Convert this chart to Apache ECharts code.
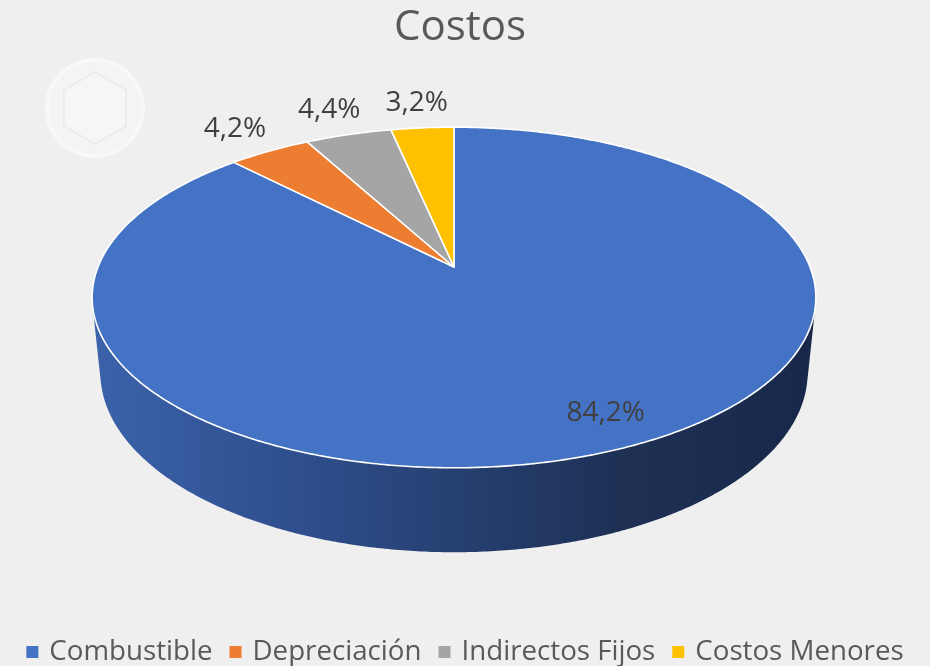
<!DOCTYPE html>
<html>
<head>
<meta charset="utf-8">
<script src="https://cdn.jsdelivr.net/npm/echarts@6/dist/echarts.min.js"></script>
<style>
  html, body { margin: 0; padding: 0; background: #efefef; }
  #chart { width: 930px; height: 666px; }
</style>
</head>
<body>
<div id="chart"></div>
<script>
const categories = ['Combustible', 'Depreciación', 'Indirectos Fijos', 'Costos Menores'];
const values = [84.2, 4.2, 4.4, 3.2];
const colors = ['#4472C4', '#ED7D31', '#A5A5A5', '#FFC000'];

const FONT = '"Open Sans", "Noto Sans", sans-serif';

// 3d look: a flat cylinder seen from above with a bit of perspective
const CX = 454, CY = 267, K = 356;
const SIN_A = 0.463, COS_A = Math.sqrt(1 - SIN_A * SIN_A);
const DIST = 4.95, DEPTH = 0.24;

const total = values.reduce((a, b) => a + b, 0);
const starts = [];
values.reduce((acc, v) => { starts.push(acc); return acc + v; }, 0);

const proj = (X, Y, Z) => {
  const yc = Y * COS_A - Z * SIN_A;
  const zc = Y * SIN_A + Z * COS_A;
  const s = DIST / (DIST - zc);
  return [CX + K * X * s, CY - K * yc * s];
};
// angle in degrees, clockwise from 12 o'clock
const rim = (deg, r, Y) => {
  const t = deg * Math.PI / 180;
  return proj(r * Math.sin(t), Y, -r * Math.cos(t));
};
const arc = (a0, a1, r, Y) => {
  const pts = [];
  const n = Math.max(2, Math.ceil(Math.abs(a1 - a0) / 0.5));
  for (let k = 0; k <= n; k++) pts.push(rim(a0 + (a1 - a0) * k / n, r, Y));
  return pts;
};
const silhouette = Math.acos(-1 / (DIST * COS_A)) * 180 / Math.PI;

const fmt = v => v.toFixed(1).replace('.', ',') + '%';

function makeRender(i) {
  return function (params, api) {
    const v = api.value(0);
    const a0 = starts[i] / total * 360;
    const a1 = a0 + v / total * 360;
    const color = api.visual('color');
    const children = [];

    const lo = Math.max(a0, silhouette), hi = Math.min(a1, 360 - silhouette);
    if (lo < hi) {
      const wall = arc(lo, hi, 1, 0).concat(arc(hi, lo, 1, -DEPTH));
      children.push({
        type: 'polygon',
        z2: 0,
        shape: { points: wall },
        style: {
          fill: {
            type: 'linear', x: 0, y: 0, x2: 1, y2: 0,
            colorStops: [
              { offset: 0, color: '#3b62aa' },
              { offset: 0.29, color: '#2e4e8c' },
              { offset: 0.51, color: '#253f70' },
              { offset: 0.73, color: '#1e3155' },
              { offset: 1, color: '#18274a' }
            ]
          }
        }
      });
    }

    children.push({
      type: 'polygon',
      z2: 1,
      shape: { points: [proj(0, 0, 0)].concat(arc(a0, a1, 1, 0)) },
      style: { fill: color, stroke: '#ffffff', lineWidth: 1.6, lineJoin: 'round' }
    });

    const mid = (a0 + a1) / 2;
    const inside = v / total > 0.2;
    const p = inside ? rim(mid - 3.5, 0.85, 0) : rim(mid, 1.22, 0);
    children.push({
      type: 'text',
      z2: 2,
      style: {
        text: fmt(v),
        x: p[0], y: p[1],
        align: 'center', verticalAlign: 'middle',
        fill: '#404040',
        font: '28px ' + FONT
      }
    });
    return { type: 'group', children: children };
  };
}

const chart = echarts.init(document.getElementById('chart'));

const option = {
  backgroundColor: '#efefef',
  animation: false,
  title: {
    text: 'Costos',
    left: 389,
    top: 2,
    textStyle: { fontFamily: FONT, fontSize: 42, fontWeight: 'normal', color: '#595959' }
  },
  legend: {
    data: categories,
    left: 'center',
    top: 638,
    icon: 'rect',
    itemWidth: 12,
    itemHeight: 12,
    itemGap: 17,
    padding: 0,
    textStyle: { fontFamily: FONT, fontSize: 27.7, color: '#595959', padding: [0, 0, 0, 6] }
  },
  graphic: [
    {
      type: 'circle', silent: true, z: -1,
      shape: { cx: 95, cy: 108, r: 48 },
      style: { fill: '#f4f4f4', stroke: '#f8f8f8', lineWidth: 4 }
    },
    {
      type: 'polygon', silent: true, z: -1,
      shape: { points: [[95, 72], [126, 90], [126, 126], [95, 144], [64, 126], [64, 90]] },
      style: { fill: '#f6f6f6', stroke: '#ebebeb', lineWidth: 2 }
    }
  ],
  series: categories.map((name, i) => ({
    type: 'custom',
    name: name,
    coordinateSystem: 'none',
    itemStyle: { color: colors[i] },
    renderItem: makeRender(i),
    data: [values[i]]
  }))
};

chart.setOption(option);
</script>
</body>
</html>
